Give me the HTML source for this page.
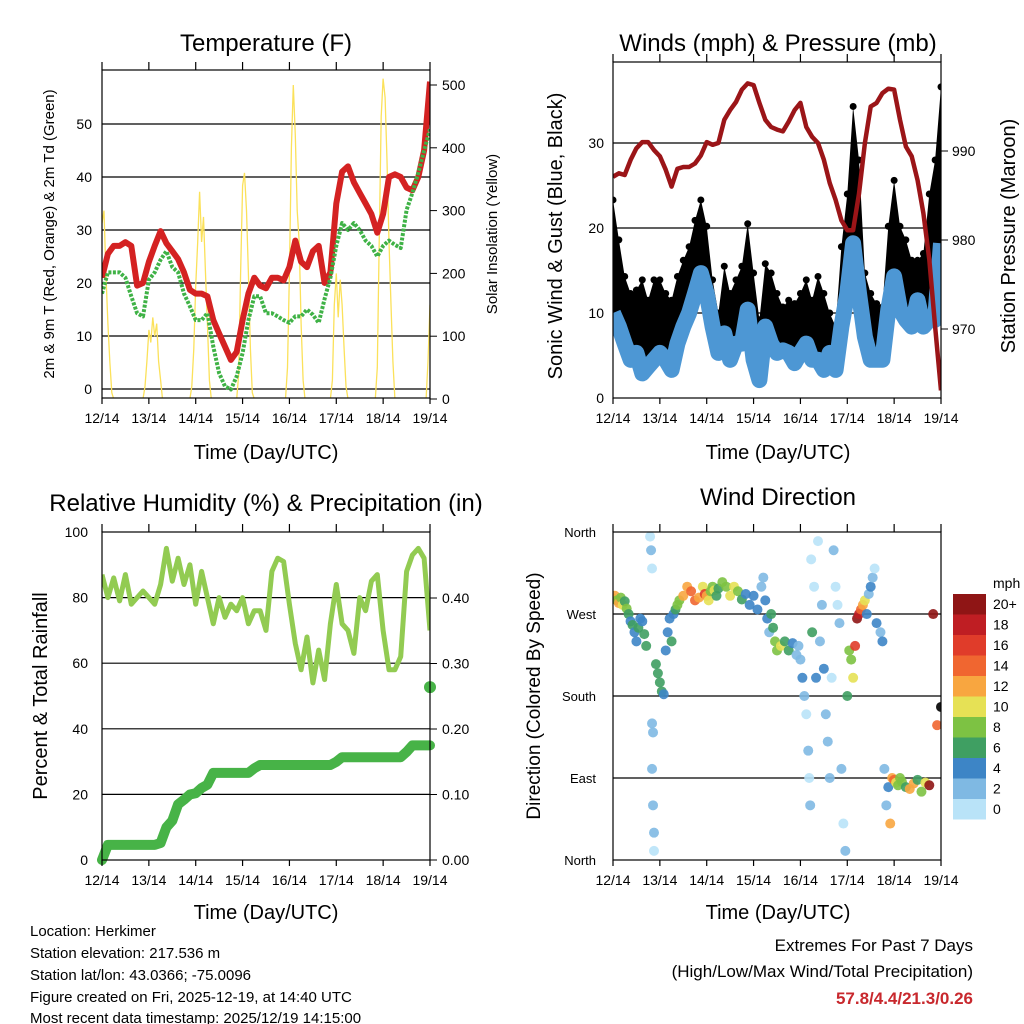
<!DOCTYPE html>
<html><head><meta charset="utf-8">
<style>
html,body{margin:0;padding:0;background:#fff;}
svg{display:block;font-family:"Liberation Sans",Arial,sans-serif;}
</style></head>
<body>
<svg id="c" width="1024" height="1024" viewBox="0 0 1024 1024" xmlns="http://www.w3.org/2000/svg">
<defs>
<clipPath id="cp1"><rect x="102" y="70" width="328" height="328"/></clipPath>
<clipPath id="cp2"><rect x="613" y="62" width="328" height="336"/></clipPath>
<clipPath id="cp3"><rect x="102" y="532" width="328" height="328"/></clipPath>
<clipPath id="cp4"><rect x="613" y="532" width="328" height="328"/></clipPath>
</defs>
<g font-size="24" text-anchor="middle" fill="#000">
<text x="266" y="51">Temperature (F)</text>
<text x="778" y="51">Winds (mph) &amp; Pressure (mb)</text>
<text x="266" y="511">Relative Humidity (%) &amp; Precipitation (in)</text>
<text x="778" y="505">Wind Direction</text>
</g>
<g font-size="20" text-anchor="middle">
<text x="266" y="459">Time (Day/UTC)</text>
<text x="778" y="459">Time (Day/UTC)</text>
<text x="266" y="919">Time (Day/UTC)</text>
<text x="778" y="919">Time (Day/UTC)</text>
<text transform="translate(54,234) rotate(-90)" font-size="15">2m &amp; 9m T (Red, Orange) &amp; 2m Td (Green)</text>
<text transform="translate(497,234) rotate(-90)" font-size="15">Solar Insolation (Yellow)</text>
<text transform="translate(562,236) rotate(-90)">Sonic Wind &amp; Gust (Blue, Black)</text>
<text transform="translate(1015,236) rotate(-90)">Station Pressure (Maroon)</text>
<text transform="translate(47,696) rotate(-90)">Percent &amp; Total Rainfall</text>
<text transform="translate(540,696) rotate(-90)" font-size="19">Direction (Colored By Speed)</text>
</g>
<g font-size="15">
<text x="30" y="936">Location: Herkimer</text>
<text x="30" y="958">Station elevation: 217.536 m</text>
<text x="30" y="980">Station lat/lon: 43.0366; -75.0096</text>
<text x="30" y="1002">Figure created on Fri, 2025-12-19, at 14:40 UTC</text>
<text x="30" y="1023">Most recent data timestamp: 2025/12/19 14:15:00</text>
</g>
<g font-size="17" text-anchor="end">
<text x="973" y="951">Extremes For Past 7 Days</text>
<text x="973" y="977">(High/Low/Max Wind/Total Precipitation)</text>
<text x="973" y="1004" fill="#c8282d" font-weight="bold">57.8/4.4/21.3/0.26</text>
</g>
<g id="root"></g>
</svg>
<script>
// ---- data (3-hourly from 12/14 14Z) ----
const dayLabels=["12/14","13/14","14/14","15/14","16/14","17/14","18/14","19/14"];
const tempF=[21,25.5,27,27,27.7,27,19.5,20,24,27,29.8,27.5,26,24.5,22,18.7,18,18,17.5,13,10.5,8,5.5,7,13,18,21,19.5,19,21,21,20.5,23,28,24,23,26,27,20,22,35,41,42,39,37,35,33,29.5,33,40,40.5,40,38,37.5,40,45,58];
const dewF=[18,22,22,22,21,17.5,14.3,13.7,20.6,22,24.4,26,23,22,18,15.6,13,13,14.3,8,3,0.5,-0.1,2.4,6.8,13,17.5,17.5,14.3,14.3,13.7,13,12.5,13.7,13.7,15,14,12.5,17,21,27,31.3,30,31.3,30,28,27,25,27,28,27.2,26.6,33.8,37,40.8,45,49];
const solarHour=[0,1,2,3,4,5,6, 21,22,23,24,25,26,27,28,29,30,31, 45,46,47,48,49,50,51,52,53,54,55,56, 69,70,71,72,73,74,75,76,77,78, 94,95,96,97,98,99,100,101,102,103,104, 117,118,119,120,121,122,123,124,125,126, 140,141,142,143,144,145,146,147,148,149,150, 166,167,168];
const solarVal=[280,300,200,120,60,10,0, 0,20,60,110,90,130,100,120,60,30,0, 0,20,80,180,250,330,250,290,200,120,30,0, 0,40,200,340,360,300,200,80,10,0, 0,50,200,400,500,420,300,250,120,30,0, 0,30,150,200,130,190,150,80,20,0, 0,50,250,450,510,480,380,250,150,60,0, 0,60,150];
const pressMb=[987.1,987.5,987.3,989,990.3,991,991,990.1,989.4,987.9,986,988,988.2,988.2,988.6,989.5,991,990.7,990.9,993.5,994.6,995.5,996.9,997.6,997.4,995.4,993.5,992.7,992.4,992.2,993.3,994.6,995.4,992.7,991.6,990.9,989,986.4,984.5,982.2,981.1,981.1,985.2,990.9,995,995.4,996.5,997,996.9,993.5,990.5,989.4,986.7,983,977.8,970.3,963.1];
const windMph=[10,8.4,6.4,4.5,5.3,2.9,3.7,4.5,5.3,4.5,3.3,6.4,8.4,10,12.3,14.7,12.3,8.4,5.3,7.6,4.5,6.4,6.4,10.4,4.5,2.1,8.4,6.4,5.3,5.6,5.3,4.1,5.3,6.4,4.5,4.5,3.3,5.3,3.3,8.4,12.3,18.2,12.3,7.2,4.5,4.5,4.5,10.4,14.3,10.4,9.2,8.4,11.5,8.4,9.2,9.2,18.2];
const gustMph=[23.3,18.6,14.3,12.3,12.7,13.9,11.5,13.9,13.9,12.3,11.5,14.3,16.2,17.8,20.9,23.3,20.2,13.9,10,15.5,12.3,13.9,15.5,20.5,14.7,9.2,15.8,14.7,12.3,10.7,11.5,11.1,12.3,13.9,11.5,14.3,12.3,10,8.4,17.8,24,34.3,28,14.7,12.3,11.1,10.7,20.2,25.6,20.2,18.6,16.2,16.2,17,24,28,36.6];
const rhPct=[87,80,86,79,87,78,80,82,80,78,84,95,85,92,84,90,78,88,80,72,80,74,78,76,80,72,76,76,70,88,92,91,78,66,58,68,54,64,55,72,84,72,70,63,80,76,85,87,70,58,58,62,88,93,95,92,70];
const rainIn=[0,0.023,0.023,0.023,0.023,0.023,0.023,0.023,0.023,0.023,0.026,0.05,0.06,0.085,0.092,0.1,0.102,0.11,0.115,0.133,0.133,0.133,0.133,0.133,0.133,0.133,0.14,0.145,0.145,0.145,0.145,0.145,0.145,0.145,0.145,0.145,0.145,0.145,0.145,0.145,0.15,0.157,0.157,0.157,0.157,0.157,0.157,0.157,0.157,0.157,0.157,0.157,0.165,0.175,0.175,0.175,0.175];
const rhNow=52.7;
const dirHour=[0,1,2,3,4,5,6,7,8,9,10,11,12,13,14,15,16,17,19,19.5,20,20,20.5,20.5,21,21,20,22,23,24,25,26,27,28,29,30,31,32,33,34,36,38,40,42,44,46,47,48,49,50,51,52,53,54,56,58,60,62,64,66,68,70,72,74,76,77,78,79,80,81,82,83,84,86,88,90,92,94,95,96,97,98,99,100,100.5,101,101.5,102,103,104,105,106,107,108,109,110,111,112,113,114,115,116,117,118,119,120,121,122,123,124,125,126,127,128,129,130,131,132,133,134,135,137,138,139,140,141,142,143,144,145,146,147,148,150,152,154,156,158,160,162,164,166,168,168,168];
const dirDeg=[287,290,285,282,288,280,284,276,270,262,258,250,240,255,265,262,248,235,355,340,320,100,60,140,30,10,150,215,205,195,185,182,230,250,265,240,270,275,280,285,290,300,295,285,288,300,292,290,285,295,300,296,290,298,305,300,290,300,295,286,292,280,290,275,300,310,285,265,250,270,255,240,230,235,240,230,238,225,235,220,200,180,160,120,90,60,330,250,300,200,350,240,280,210,160,130,90,200,340,300,280,260,100,40,10,180,230,220,200,235,265,270,275,280,285,270,292,300,310,320,260,250,240,100,60,80,40,90,88,85,82,90,86,80,78,84,88,75,85,82,270,148,168];
const dirSpd=[11,13,9,12,8,10,7,8,6,5,7,5,4,6,5,4,7,6,1,2,1,2,2,2,2,1,2,7,6,7,6,5,5,4,5,6,5,7,8,9,12,13,15,14,12,10,16,13,11,9,8,10,7,6,9,8,10,11,8,6,4,4,5,4,3,2,4,5,3,7,6,8,9,10,7,6,4,3,3,2,5,2,1,2,1,2,1,7,1,4,1,3,2,4,3,2,3,1,2,1,1,2,2,1,2,7,9,8,11,16,20,18,14,12,10,4,3,4,2,1,5,3,4,3,3,4,13,12,14,10,9,8,8,6,12,13,7,9,10,21,21,15];
const speedColors=["#b9e3f8","#7fb9e3","#3d85c6","#3f9f62","#7dc243","#e6e155","#f8a640","#f06630","#e03c2a","#bf1e23","#8f1515"];
const speedLabels=["0","2","4","6","8","10","12","14","16","18","20+"];

const NS="http://www.w3.org/2000/svg";
const root=document.getElementById('root');
function mk(tag,attrs,parent){const e=document.createElementNS(NS,tag);for(const k in attrs)e.setAttribute(k,attrs[k]);(parent||root).appendChild(e);return e;}
const H=168;
function xA(h){return 102+h*328/H;}
function xB(h){return 613+h*328/H;}
const yT=v=>389-v*5.3, yS=v=>399-v*0.628;
const yW=v=>398-v*8.5, yP=p=>240-(p-980)*8.9;
const yR=v=>860-v*3.28, yPr=v=>860-v*655;
const yD=d=>860-d*0.911;

function frame(x0,y0,w,h,name){
  const r=mk('rect',{x:x0,y:y0,width:w,height:h,fill:'none',stroke:'#000','stroke-width':1.2});
  
  
  for(let d=0;d<dayLabels.length;d++){
    const x=x0+d*w/7;
    const t1=mk('line',{x1:x,x2:x,y1:y0-8,y2:y0,stroke:'#000','stroke-width':1.2});
    
    
    const t2=mk('line',{x1:x,x2:x,y1:y0+h,y2:y0+h+6,stroke:'#000','stroke-width':1.2});
    
    
    const tl=mk('text',{x:x,y:y0+h+25,'font-size':14,'text-anchor':'middle'});
    tl.textContent=dayLabels[d];
    
    
  }
}
function hgrid(x0,x1,y,name){
  const l=mk('line',{x1:x0,x2:x1,y1:y,y2:y,stroke:'#000','stroke-width':1.2});
  
  
}
function label(x,y,txt,anchor,name,size){
  const t=mk('text',{x:x,y:y+5,'font-size':size||14,'text-anchor':anchor});
  t.textContent=txt;
  
  
}
function ptsOf(arr,xf,yf){return arr.map((v,i)=>xf(i*3).toFixed(1)+','+yf(v).toFixed(1)).join(' ');}

// ---- Panel 1: Temperature ----
[0,10,20,30,40,50].forEach(v=>{hgrid(102,430,yT(v),'temp-gridline');label(92,yT(v),String(v),'end','temp-y-tick-label');});
[0,100,200,300,400,500].forEach(v=>{
  const t=mk('line',{x1:430,x2:437,y1:yS(v),y2:yS(v),stroke:'#000'});
  
  
  label(442,yS(v),String(v),'start','solar-y-tick-label');
});
const g1=mk('g',{'clip-path':'url(#cp1)'});
const sol=mk('polyline',{points:solarHour.map((h,i)=>xA(h).toFixed(1)+','+yS(solarVal[i]).toFixed(1)).join(' '),fill:'none',stroke:'#fbe15a','stroke-width':1.3},g1);


const tl=mk('polyline',{points:ptsOf(tempF,xA,yT),fill:'none',stroke:'#d42222','stroke-width':6,'stroke-linejoin':'round'},g1);


const dl=mk('polyline',{points:ptsOf(dewF,xA,yT),fill:'none',stroke:'#3fb246','stroke-width':4,'stroke-dasharray':'3 1.5','stroke-linejoin':'round'},g1);


frame(102,70,328,328,'temp');

// ---- Panel 2: Winds & Pressure ----
[10,20,30].forEach(v=>hgrid(613,941,yW(v),'wind-gridline'));
[0,10,20,30].forEach(v=>label(604,yW(v),String(v),'end','wind-y-tick-label'));
[970,980,990].forEach(v=>{
  const t=mk('line',{x1:941,x2:948,y1:yP(v),y2:yP(v),stroke:'#000'});
  
  
  label(952,yP(v),String(v),'start','pressure-y-tick-label');
});
const g2=mk('g',{'clip-path':'url(#cp2)'});
const gustPoly=ptsOf(gustMph,xB,yW)+' '+windMph.map((v,i)=>xB(i*3).toFixed(1)+','+yW(v).toFixed(1)).reverse().join(' ');
const ga=mk('polygon',{points:gustPoly,fill:'#000'},g2);


gustMph.forEach((v,i)=>{
  const c=mk('circle',{cx:xB(i*3),cy:yW(v),r:3.5,fill:'#000'},g2);
  
  
});
const wl=mk('polyline',{points:ptsOf(windMph,xB,yW),fill:'none',stroke:'#4d97d4','stroke-width':16,'stroke-linejoin':'round'},g2);


const pl=mk('polyline',{points:ptsOf(pressMb,xB,yP),fill:'none',stroke:'#9b1518','stroke-width':4.5,'stroke-linejoin':'round'},g2);


frame(613,62,328,336,'wind');

// ---- Panel 3: RH & Precip ----
[20,40,60,80].forEach(v=>hgrid(102,430,yR(v),'rh-gridline'));
[0,20,40,60,80,100].forEach(v=>label(88,yR(v),String(v),'end','rh-y-tick-label'));
[0,0.1,0.2,0.3,0.4].forEach(v=>{
  const t=mk('line',{x1:430,x2:437,y1:yPr(v),y2:yPr(v),stroke:'#000'});
  
  
  label(442,yPr(v),v.toFixed(2),'start','rain-y-tick-label');
});
const g3=mk('g',{'clip-path':'url(#cp3)'});
const rl=mk('polyline',{points:ptsOf(rhPct,xA,yR),fill:'none',stroke:'#92cb52','stroke-width':5,'stroke-linejoin':'round'},g3);


const pr=mk('polyline',{points:ptsOf(rainIn,xA,yPr),fill:'none',stroke:'#47b347','stroke-width':10,'stroke-linejoin':'round','stroke-linecap':'round'});


const rn=mk('circle',{cx:430,cy:yR(rhNow),r:6,fill:'#47b347'});


frame(102,532,328,328,'rh');

// ---- Panel 4: Wind Direction ----
[90,180,270].forEach(v=>hgrid(613,941,yD(v),'dir-gridline'));
const dirNames=["North","East","South","West","North"];
dirNames.forEach((n,i)=>label(596,yD(i*90),n,'end','dir-y-tick-label',13));
const g4=mk('g',{'clip-path':'url(#cp4)'});
dirHour.forEach((h,i)=>{
  const idx=Math.min(10,Math.floor(dirSpd[i]/2));
  const c=mk('circle',{cx:xB(h),cy:yD(dirDeg[i]),r:5,fill:speedColors[idx],'fill-opacity':0.9},g4);
  
  
});
frame(613,532,328,328,'dir');

// colorbar
const cbTitle=mk('text',{x:993,y:588,'font-size':14});
cbTitle.textContent='mph';


speedColors.forEach((col,i)=>{
  const k=10-i;
  const y=594+k*20.5;
  const r=mk('rect',{x:953,y:y,width:33,height:20.5,fill:col});
  
  
  label(993,y+10,speedLabels[i],'start','colorbar-label');
});
</script>
</body></html>
